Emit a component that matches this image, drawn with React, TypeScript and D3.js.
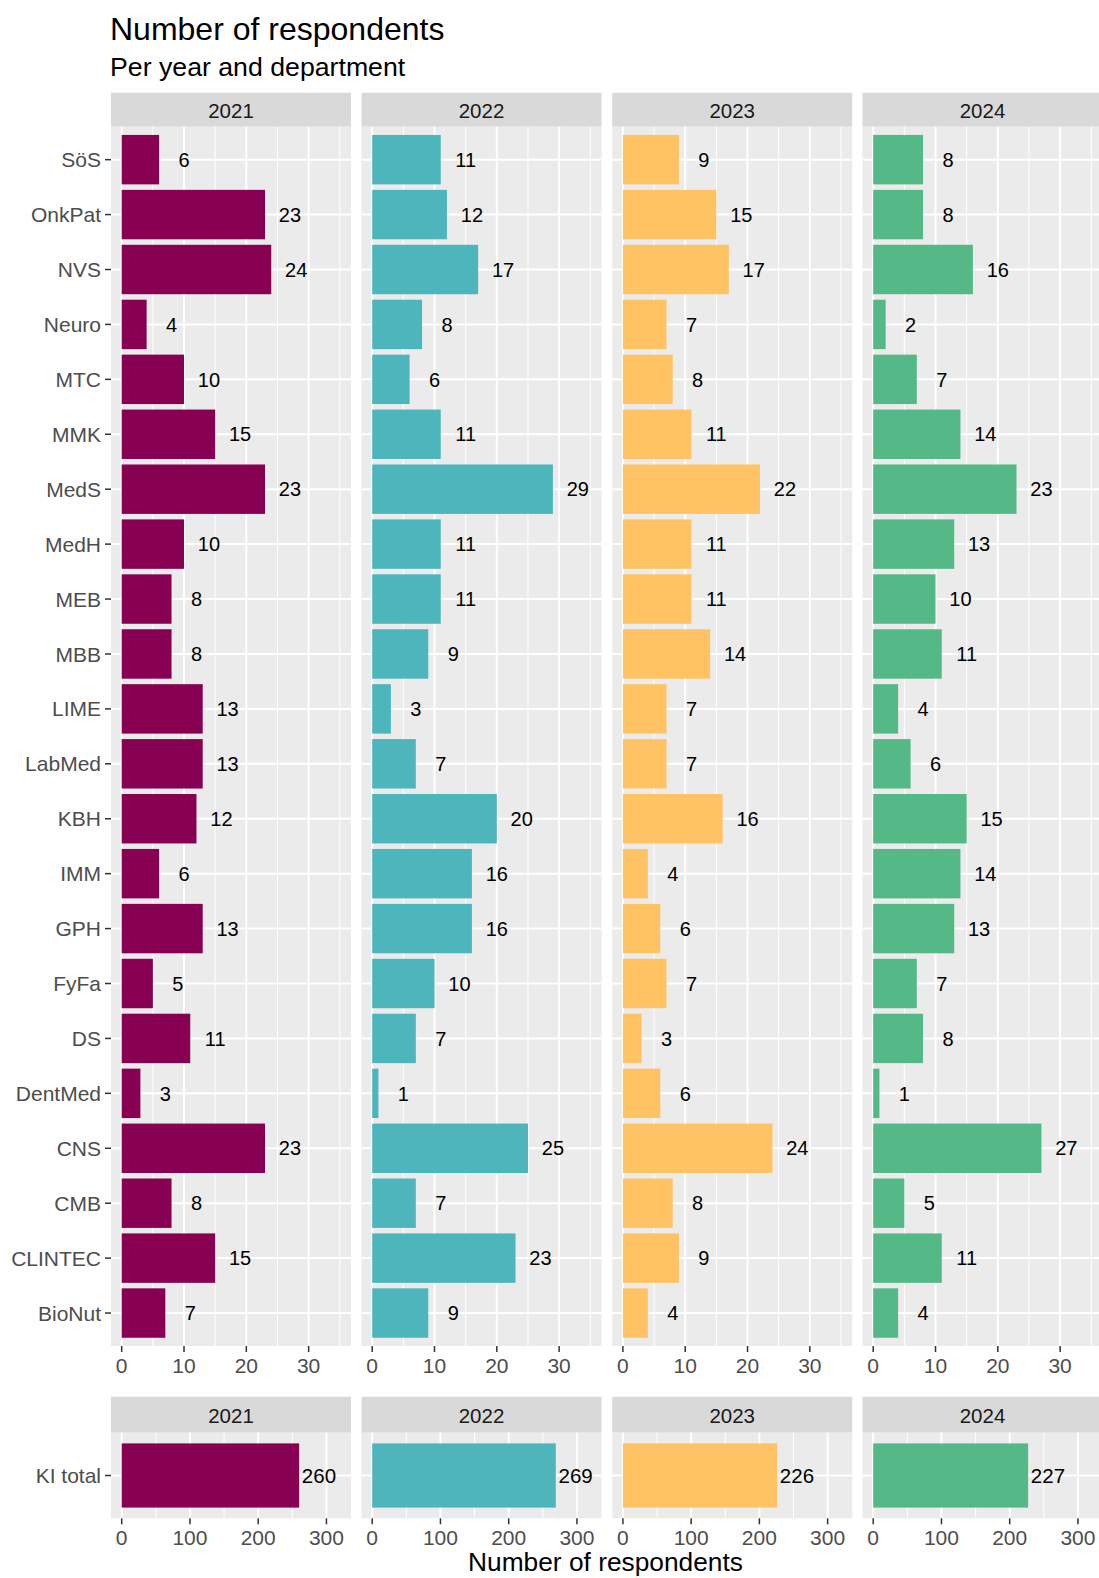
import React from "react";
import * as d3 from "d3";

const departments = ["SöS","OnkPat","NVS","Neuro","MTC","MMK","MedS","MedH","MEB","MBB","LIME","LabMed","KBH","IMM","GPH","FyFa","DS","DentMed","CNS","CMB","CLINTEC","BioNut"];
const years = ["2021","2022","2023","2024"];
const v2021 = [6,23,24,4,10,15,23,10,8,8,13,13,12,6,13,5,11,3,23,8,15,7];
const v2022 = [11,12,17,8,6,11,29,11,11,9,3,7,20,16,16,10,7,1,25,7,23,9];
const v2023 = [9,15,17,7,8,11,22,11,11,14,7,7,16,4,6,7,3,6,24,8,9,4];
const v2024 = [8,8,16,2,7,14,23,13,10,11,4,6,15,14,13,7,8,1,27,5,11,4];
const totals = [260,269,226,227];
const totalLabel = "KI total";
const colors = ["#870052","#4DB5BC","#FFC364","#54B986"];
const topTicks = [0,10,20,30];
const topMinor = [5,15,25,35];
const botTicks = [0,100,200,300];
const botMinor = [50,150,250];

const series = [v2021, v2022, v2023, v2024];

const W = 1099, H = 1578;
const FONT = "'Liberation Sans', Arial, Helvetica, sans-serif";
const panelLefts = [111, 361.5, 612.2, 862.5];
const panelW = 240;
const stripTop = 92.7, stripBot = 126.7, panelBot = 1346;
const stripTop2 = 1396.7, stripBot2 = 1432.7, panelBot2 = 1518.3;

export default function App() {
  const yTop = d3.scaleBand<string>().domain(departments).range([stripBot, panelBot]).paddingInner(0.1).paddingOuter(0.15);
  const yBot = d3.scaleBand<string>().domain([totalLabel]).range([stripBot2, panelBot2]).paddingInner(0.1).paddingOuter(0.15);
  const axisCol = "#4D4D4D";
  return (
    <svg width={W} height={H} style={{ position: "absolute", left: 0, top: 0, background: "#fff" }} fontFamily={FONT}>
      <text x={110} y={39.5} fontSize={32} fill="#000">Number of respondents</text>
      <text x={110} y={76} fontSize={26.7} fill="#000">Per year and department</text>
      {years.map((yr, p) => {
        const L = panelLefts[p];
        const xs = d3.scaleLinear().domain([-1.717, 36.8]).range([L, L + panelW]);
        const xb = d3.scaleLinear().domain([-15.7, 336]).range([L, L + panelW]);
        const vals = series[p];
        return (
          <g key={yr}>
            <rect x={L} y={stripTop} width={panelW} height={stripBot - stripTop} fill="#D9D9D9" />
            <text x={L + panelW / 2} y={118.3} textAnchor="middle" fontSize={20.5} fill="#1A1A1A">{yr}</text>
            <rect x={L} y={stripBot} width={panelW} height={panelBot - stripBot} fill="#EBEBEB" />
            {topMinor.map(t => (
              <line key={"mi" + t} x1={xs(t)} x2={xs(t)} y1={stripBot} y2={panelBot} stroke="#fff" strokeWidth={1} />
            ))}
            {topTicks.map(t => (
              <line key={"ma" + t} x1={xs(t)} x2={xs(t)} y1={stripBot} y2={panelBot} stroke="#fff" strokeWidth={2} />
            ))}
            {departments.map(d => (
              <line key={"h" + d} x1={L} x2={L + panelW} y1={yTop(d)! + yTop.bandwidth() / 2} y2={yTop(d)! + yTop.bandwidth() / 2} stroke="#fff" strokeWidth={2} />
            ))}
            {departments.map((d, i) => (
              <rect key={"b" + d} x={xs(0)} y={yTop(d)!} width={xs(vals[i]) - xs(0)} height={yTop.bandwidth()} fill={colors[p]} />
            ))}
            {departments.map((d, i) => (
              <text key={"l" + d} x={xs(vals[i] + 4)} y={yTop(d)! + yTop.bandwidth() / 2} dy="0.36em" textAnchor="middle" fontSize={20} fill="#000">{vals[i]}</text>
            ))}
            {topTicks.map(t => (
              <g key={"t" + t}>
                <line x1={xs(t)} x2={xs(t)} y1={panelBot} y2={panelBot + 6} stroke="#333" strokeWidth={1.5} />
                <text x={xs(t)} y={1372.7} textAnchor="middle" fontSize={21} fill={axisCol}>{t}</text>
              </g>
            ))}
            <rect x={L} y={stripTop2} width={panelW} height={stripBot2 - stripTop2} fill="#D9D9D9" />
            <text x={L + panelW / 2} y={1422.7} textAnchor="middle" fontSize={20.5} fill="#1A1A1A">{yr}</text>
            <rect x={L} y={stripBot2} width={panelW} height={panelBot2 - stripBot2} fill="#EBEBEB" />
            {botMinor.map(t => (
              <line key={"bmi" + t} x1={xb(t)} x2={xb(t)} y1={stripBot2} y2={panelBot2} stroke="#fff" strokeWidth={1} />
            ))}
            {botTicks.map(t => (
              <line key={"bma" + t} x1={xb(t)} x2={xb(t)} y1={stripBot2} y2={panelBot2} stroke="#fff" strokeWidth={2} />
            ))}
            <line x1={L} x2={L + panelW} y1={yBot(totalLabel)! + yBot.bandwidth() / 2} y2={yBot(totalLabel)! + yBot.bandwidth() / 2} stroke="#fff" strokeWidth={2} />
            <rect x={xb(0)} y={yBot(totalLabel)!} width={xb(totals[p]) - xb(0)} height={yBot.bandwidth()} fill={colors[p]} />
            <text x={xb(totals[p] + 4)} y={yBot(totalLabel)! + yBot.bandwidth() / 2} dy="0.36em" textAnchor="start" fontSize={20.5} fill="#000">{totals[p]}</text>
            {botTicks.map(t => (
              <g key={"bt" + t}>
                <line x1={xb(t)} x2={xb(t)} y1={panelBot2} y2={panelBot2 + 6} stroke="#333" strokeWidth={1.5} />
                <text x={xb(t)} y={1545} textAnchor="middle" fontSize={21} fill={axisCol}>{t}</text>
              </g>
            ))}
          </g>
        );
      })}
      {departments.map(d => {
        const cy = yTop(d)! + yTop.bandwidth() / 2;
        return (
          <g key={"y" + d}>
            <line x1={105} x2={111} y1={cy} y2={cy} stroke="#333" strokeWidth={1.5} />
            <text x={101} y={cy} dy="0.36em" textAnchor="end" fontSize={21} fill={axisCol}>{d}</text>
          </g>
        );
      })}
      {(() => {
        const cy = yBot(totalLabel)! + yBot.bandwidth() / 2;
        return (
          <g>
            <line x1={105} x2={111} y1={cy} y2={cy} stroke="#333" strokeWidth={1.5} />
            <text x={101} y={cy} dy="0.36em" textAnchor="end" fontSize={21} fill={axisCol}>{totalLabel}</text>
          </g>
        );
      })()}
      <text x={605.5} y={1570.5} textAnchor="middle" fontSize={26.3} fill="#000">Number of respondents</text>
    </svg>
  );
}
